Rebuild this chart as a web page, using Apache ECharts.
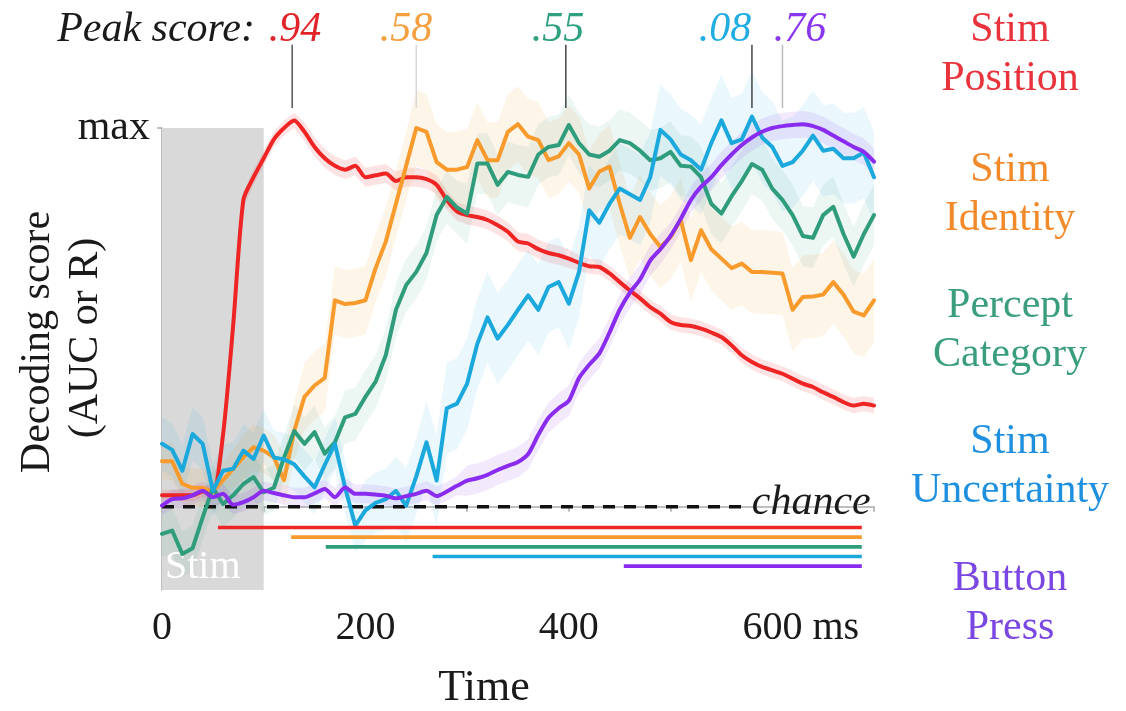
<!DOCTYPE html>
<html><head><meta charset="utf-8">
<script src="https://cdn.jsdelivr.net/npm/echarts@6/dist/echarts.min.js"></script>
<style>html,body{margin:0;padding:0;background:#fff}#c{width:1126px;height:711px}</style>
</head><body><div id="c"></div>
<script>
// ---------- data ----------
const times = [0,10,20,30,40,50,60,70,80,90,
  100,110,120,130,140,150,160,170,180,190,
  200,210,220,230,240,250,260,270,280,290,
  300,310,320,330,340,350,360,370,380,390,
  400,410,420,430,440,450,460,470,480,490,
  500,510,520,530,540,550,560,570,580,590,
  600,610,620,630,640,650,660,670,680,690,700];

const seriesNames = ['Stim Position','Stim Identity','Percept Category','Stim Uncertainty','Button Press'];
const seriesLabelLines = [['Stim','Position'],['Stim','Identity'],['Percept','Category'],['Stim','Uncertainty'],['Button','Press']];

const stimPosition = [.03,.03,.03,.03,.04,.04,.19,.48,.81,.87,
  .92,.97,1.0,1.02,.99,.95,.92,.90,.89,.90,
  .87,.875,.88,.86,.87,.87,.865,.85,.81,.78,
  .77,.765,.757,.743,.726,.70,.695,.68,.67,.664,
  .655,.644,.635,.633,.616,.593,.571,.55,.527,.51,
  .488,.48,.477,.47,.46,.448,.426,.40,.382,.369,
  .36,.351,.338,.325,.316,.302,.29,.276,.267,.272,.267];
const stimIdentity = [.12,.12,.06,.05,.05,.04,.07,.10,.13,.157,
  .148,.13,.07,.20,.29,.32,.34,.545,.535,.538,
  .545,.63,.70,.80,.90,1.0,.99,.91,.89,.89,
  .897,.968,.915,.915,.99,1.01,.977,.968,.915,.925,
  .96,.93,.84,.885,.898,.80,.71,.765,.72,.686,
  .712,.757,.651,.73,.68,.655,.63,.642,.62,.62,
  .618,.616,.52,.554,.555,.56,.593,.56,.515,.505,.545];
const perceptCategory = [-.072,-.063,-.125,-.11,-.028,.05,.007,.03,.06,.078,
  .038,.05,.13,.2,.166,.197,.14,.17,.236,.245,
  .29,.33,.40,.52,.585,.62,.67,.77,.818,.79,
  .774,.906,.906,.85,.884,.876,.871,.93,.95,.955,
  1.008,.96,.93,.924,.94,.968,.96,.94,.915,.92,
  .937,.90,.898,.87,.80,.774,.82,.86,.905,.89,
  .84,.81,.77,.715,.71,.77,.792,.72,.66,.72,.77];
const stimUncertainty = [.166,.15,.095,.192,.166,.042,.095,.10,.148,.126,
  .188,.13,.125,.112,.08,.051,.11,.166,.051,-.05,
  -.01,.01,.02,.042,.003,.08,.17,.069,.26,.272,
  .325,.43,.50,.444,.48,.52,.558,.52,.58,.593,
  .536,.62,.783,.75,.80,.84,.825,.81,.87,.995,
  .97,.93,.915,.89,.96,1.02,.96,.97,1.03,.975,
  .95,.90,.91,.94,.98,.94,.945,.92,.92,.935,.87];
const buttonPress = [.003,.02,.022,.03,.042,.025,.034,.005,.012,.025,
  .042,.036,.03,.025,.025,.035,.047,.025,.051,.034,
  .034,.032,.029,.022,.028,.034,.042,.028,.04,.055,
  .069,.075,.084,.097,.108,.118,.139,.19,.235,.26,
  .28,.34,.375,.405,.46,.52,.565,.60,.65,.68,
  .715,.76,.81,.845,.87,.902,.93,.955,.975,.99,
  1.0,1.005,1.008,1.01,1.005,.995,.98,.965,.95,.937,.911];

// standard-error half widths of the shaded bands
const stimPositionErr = [.015,.015,.015,.015,.015,.015,.02,.02,.02,.02,
  .02,.02,.02,.02,.025,.025,.025,.025,.025,.025,
  .025,.025,.025,.025,.025,.025,.025,.025,.025,.025,
  .025,.025,.025,.025,.025,.025,.025,.025,.025,.025,
  .025,.02,.02,.02,.02,.02,.02,.02,.02,.02,
  .02,.02,.02,.02,.02,.02,.02,.02,.02,.02,
  .02,.02,.02,.02,.02,.02,.02,.02,.02,.02,.02];
const stimIdentityErr = [.05,.05,.05,.05,.05,.05,.05,.05,.06,.06,
  .06,.06,.07,.08,.09,.09,.09,.09,.09,.09,
  .09,.09,.09,.09,.09,.10,.10,.10,.10,.10,
  .10,.10,.10,.10,.10,.10,.10,.10,.10,.10,
  .10,.10,.10,.10,.11,.11,.11,.11,.11,.11,
  .11,.11,.11,.11,.11,.11,.11,.11,.11,.11,
  .11,.11,.11,.11,.11,.11,.11,.11,.11,.11,.11];
const perceptCategoryErr = [.06,.06,.06,.06,.06,.06,.06,.06,.06,.06,
  .06,.06,.06,.07,.07,.07,.07,.07,.07,.07,
  .07,.07,.07,.07,.07,.07,.07,.07,.07,.07,
  .08,.08,.08,.08,.08,.08,.08,.08,.08,.08,
  .08,.08,.08,.08,.08,.08,.08,.08,.08,.08,
  .08,.08,.08,.08,.08,.08,.08,.08,.08,.08,
  .08,.08,.08,.08,.08,.08,.08,.08,.08,.08,.08];
const stimUncertaintyErr = [.07,.07,.07,.07,.07,.07,.07,.07,.07,.07,
  .07,.07,.07,.07,.07,.07,.07,.07,.07,.07,
  .08,.08,.08,.09,.10,.10,.11,.12,.12,.12,
  .12,.12,.12,.12,.12,.12,.12,.12,.12,.12,
  .12,.12,.12,.12,.12,.12,.12,.12,.12,.12,
  .12,.12,.12,.12,.12,.12,.12,.12,.12,.12,
  .12,.12,.12,.12,.12,.12,.12,.12,.12,.12,.12];
const buttonPressErr = [.025,.025,.025,.025,.025,.025,.025,.025,.025,.025,
  .025,.025,.025,.025,.025,.025,.025,.025,.025,.025,
  .025,.025,.025,.025,.025,.025,.025,.025,.025,.025,
  .04,.04,.04,.04,.04,.04,.04,.04,.04,.04,
  .04,.04,.04,.04,.04,.04,.04,.04,.04,.04,
  .035,.035,.035,.035,.035,.035,.035,.035,.035,.035,
  .035,.035,.035,.035,.035,.035,.035,.035,.035,.035,.035];

const peakScores = ['.94','.58','.55','.08','.76'];
const peakTimes = [128, 250, 397, 580, 610];
const sigOnsets = [55, 127, 161, 266, 454];
const sigOffset = 688;
const stimWindow = [0, 100];
const chanceEnd = 570;
const xTickValues = [0, 200, 400, 600];
const xUnit = 'ms';

// ---------- styles / layout ----------
const FONT = 'Liberation Serif';
const Y_MIN = -0.22, Y_MAX = 1;
const lineColors = ['#ef2424', '#f99b2c', '#2f9d7b', '#1ba8dc', '#8a2cf0'];
const bandColors = ['rgba(239,36,36,0.13)', 'rgba(249,155,44,0.10)', 'rgba(47,157,123,0.09)', 'rgba(27,168,220,0.09)', 'rgba(138,44,240,0.10)'];
const labelColors = ['#e8323c', '#f28a2a', '#3a9e7c', '#1f90e0', '#7b47e2'];
const peakTextColors = ['#e0242a', '#f5a040', '#2fa080', '#22ade2', '#8a35f0'];
const peakLineColors = ['#555', '#d8d8d8', '#444', '#444', '#bbb'];

const values = [stimPosition, stimIdentity, perceptCategory, stimUncertainty, buttonPress];
const errs = [stimPositionErr, stimIdentityErr, perceptCategoryErr, stimUncertaintyErr, buttonPressErr];

const series = [];
// chance line + stimulus window
series.push({
  type: 'line', name: 'chance', silent: true, symbol: 'none', z: 2,
  data: [[0, 0], [chanceEnd, 0]],
  lineStyle: { color: '#111', width: 3.4, type: [12, 9] },
  endLabel: { show: true, formatter: 'chance', fontFamily: FONT, fontStyle: 'italic', fontSize: 42, color: '#1a1a1a', distance: 10, offset: [0, -4] },
  markArea: {
    silent: true, itemStyle: { color: '#d9d9d9' },
    label: { show: true, position: 'insideBottomLeft', formatter: 'Stim', color: '#fff', fontFamily: FONT, fontSize: 40, distance: 3 },
    data: [[{ xAxis: stimWindow[0], yAxis: Y_MIN }, { xAxis: stimWindow[1], yAxis: Y_MAX }]]
  }
});
// bands (one polygon per series, drawn from the lower/upper bounds)
values.forEach((vals, i) => {
  const bandData = times.map((t, j) => [t, vals[j] - errs[i][j], vals[j] + errs[i][j]]);
  series.push({
    type: 'custom', silent: true, clip: false, z: 1,
    data: bandData,
    encode: { x: 0, y: [1, 2] },
    renderItem: (params, api) => {
      if (params.dataIndex !== 0) return null;
      const upper = bandData.map(d => api.coord([d[0], d[2]]));
      const lower = bandData.map(d => api.coord([d[0], d[1]])).reverse();
      return { type: 'polygon', shape: { points: upper.concat(lower) }, style: { fill: bandColors[i] } };
    }
  });
});
// main lines
values.forEach((vals, i) => {
  series.push({
    type: 'line', name: seriesNames[i], symbol: 'none', clip: false, z: 3 + i,
    smooth: (i === 0 || i === 4) ? 0.25 : false,
    lineStyle: { color: lineColors[i], width: 4, join: 'round', cap: 'round' },
    data: times.map((t, j) => [t, vals[j]])
  });
});
// significance bars
sigOnsets.forEach((on, i) => {
  const level = -0.055 - i * 0.0255;
  series.push({
    type: 'line', symbol: 'none', silent: true, z: 9,
    lineStyle: { color: lineColors[i], width: 3.6 },
    data: [[on, level], [sigOffset, level]]
  });
});
// peak markers above plot
series.push({
  type: 'custom', silent: true, clip: false, z: 10,
  data: peakTimes.map((t, i) => [t, i]),
  encode: { x: 0, y: 1 },
  renderItem: (params, api) => {
    const t = api.value(0), i = api.value(1);
    const p1 = api.coord([t, 1.053]);
    const p2 = api.coord([t, 1.22]);
    return { type: 'line', shape: { x1: p1[0], y1: p1[1], x2: p2[0], y2: p2[1] }, style: { stroke: peakLineColors[i], lineWidth: 1.5 } };
  }
});

const graphic = [];
graphic.push({ type: 'text', x: 255, y: 30, style: { text: 'Peak score:', font: 'italic 42px "' + FONT + '"', fill: '#1a1a1a', align: 'right', verticalAlign: 'middle' } });
const peakLabelX = [295, 406, 558, 725, 800];
peakScores.forEach((s, i) => {
  graphic.push({ type: 'text', x: peakLabelX[i], y: 30, style: { text: s, font: 'italic 42px "' + FONT + '"', fill: peakTextColors[i], align: 'center', verticalAlign: 'middle' } });
});
const blockY = [54, 194, 330, 466, 603];
seriesLabelLines.forEach((lines, i) => {
  lines.forEach((ln, k) => {
    graphic.push({ type: 'text', x: 1010, y: blockY[i] - 24 + k * 49, style: { text: ln, font: '42px "' + FONT + '"', fill: labelColors[i], align: 'center', verticalAlign: 'middle' } });
  });
});
graphic.push({ type: 'text', x: 38, y: 342, rotation: Math.PI / 2, style: { text: 'Decoding score', font: '42px "' + FONT + '"', fill: '#1a1a1a', align: 'center', verticalAlign: 'middle' } });
graphic.push({ type: 'text', x: 86, y: 338, rotation: Math.PI / 2, style: { text: '(AUC or R)', font: '42px "' + FONT + '"', fill: '#1a1a1a', align: 'center', verticalAlign: 'middle' } });
graphic.push({ type: 'text', x: 484, y: 688, style: { text: 'Time', font: '44px "' + FONT + '"', fill: '#1a1a1a', align: 'center', verticalAlign: 'middle' } });

const chart = echarts.init(document.getElementById('c'));
chart.setOption({
  animation: false,
  backgroundColor: '#fff',
  grid: { left: 162, right: 252, top: 128, bottom: 121 },
  xAxis: {
    type: 'value', min: 0, max: 700, interval: 100,
    splitLine: { show: false },
    axisLine: { lineStyle: { color: '#aaa', width: 1.5 } },
    axisTick: { show: true, length: 5, lineStyle: { color: '#aaa', width: 1.5 } },
    axisLabel: {
      margin: 18, fontFamily: FONT, fontSize: 40, color: '#1a1a1a',
      formatter: v => {
        if (xTickValues.indexOf(v) < 0) return '';
        if (v === xTickValues[xTickValues.length - 1]) return '{sp| }{n|' + v + '}{u| ' + xUnit + '}';
        return String(v);
      },
      rich: {
        sp: { width: 57, fontFamily: FONT, fontSize: 40 },
        n: { fontFamily: FONT, fontSize: 40, color: '#1a1a1a' },
        u: { fontFamily: FONT, fontSize: 40, color: '#1a1a1a' }
      }
    }
  },
  yAxis: {
    type: 'value', min: Y_MIN, max: Y_MAX,
    splitLine: { show: false },
    axisLine: { show: true, lineStyle: { color: '#aaa', width: 1.5 } },
    axisTick: { show: true, length: 5, customValues: [Y_MAX], lineStyle: { color: '#aaa', width: 1.5 } },
    axisLabel: { show: true, customValues: [Y_MAX], margin: 12, fontFamily: FONT, fontSize: 42, color: '#1a1a1a', formatter: () => 'max' }
  },
  graphic: graphic,
  series: series
});
</script>
</body></html>
